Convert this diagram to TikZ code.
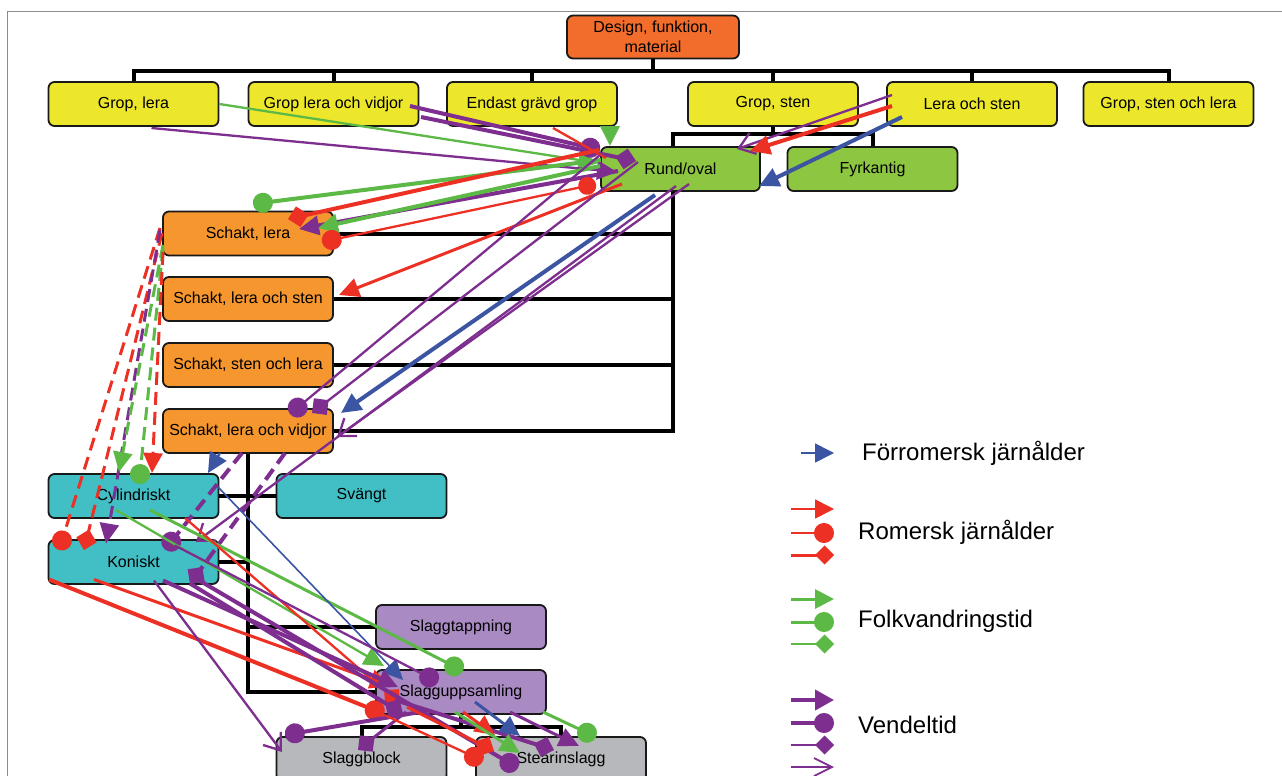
\documentclass[tikz,border=0pt]{standalone}
\usepackage{fontspec}
\setmainfont{Liberation Sans}
\usetikzlibrary{arrows.meta}
\definecolor{cR}{HTML}{ED3024}
\definecolor{cG}{HTML}{5CB946}
\definecolor{cP}{HTML}{7D2E8F}
\definecolor{cB}{HTML}{3B55A3}
\definecolor{fDes}{HTML}{F26C2B}
\definecolor{fYel}{HTML}{EDE72C}
\definecolor{fGrn}{HTML}{8DC641}
\definecolor{fOra}{HTML}{F5962E}
\definecolor{fTea}{HTML}{41BFC4}
\definecolor{fLav}{HTML}{A98AC3}
\definecolor{fGry}{HTML}{B7B8BB}
\begin{document}
\begin{tikzpicture}[x=1pt,y=-1pt,
  box/.style={draw=black!90, line width=1.8pt, rounded corners=6pt, minimum width=170pt,
    minimum height=44pt, inner sep=0pt, align=center, font=\fontsize{16}{19}\selectfont},
  tree/.style={line width=4pt, draw=black, line join=miter},
  tk/.style={line width=4pt},
  md/.style={line width=3pt},
  tn/.style={line width=2.3pt},
  arr/.style={-{Triangle[length=20pt,width=19pt]}},
  cir/.style={-{Circle[length=20pt]}},
  dia/.style={-{Diamond[length=21pt,width=21pt]}},
  opn/.style={-{Straight Barb[length=15pt,width=22pt]}},
  dpat/.style={dash pattern=on 13pt off 7pt},
  lg/.style={anchor=west, inner sep=0pt, font=\fontsize{24}{28}\selectfont}]
\useasboundingbox (0,0) rectangle (1282,776);
\fill[white] (0,0) rectangle (1282,776);
\draw[black!45, line width=0.8pt] (7,776) -- (7,11) -- (1282,11);

% ---------- nodes ----------
\path
  node[box, fill=fDes, minimum width=172pt, minimum height=43pt] (dfm) at (653,37) {Design, funktion,\\[1pt]material}
  node[box, fill=fYel] (gl)  at (133.5,104) {Grop, lera}
  node[box, fill=fYel] (glv) at (333.5,104) {Grop lera och vidjor}
  node[box, fill=fYel] (egg) at (532,104) {Endast grävd grop}
  node[box, fill=fYel] (gs)  at (773,104) {Grop, sten}
  node[box, fill=fYel] (ls)  at (972,104) {Lera och sten}
  node[box, fill=fYel] (gsl) at (1168.5,104) {Grop, sten och lera}
  node[box, fill=fGrn, minimum width=159pt] (ro) at (680.5,169) {Rund/oval}
  node[box, fill=fGrn] (fk)  at (872.5,169) {Fyrkantig}
  node[box, fill=fOra] (s1)  at (248,233.5) {Schakt, lera}
  node[box, fill=fOra] (s2)  at (248,299) {Schakt, lera och sten}
  node[box, fill=fOra] (s3)  at (248,365) {Schakt, sten och lera}
  node[box, fill=fOra] (s4)  at (248,431) {Schakt, lera och vidjor}
  node[box, fill=fTea] (cyl) at (133.5,496) {Cylindriskt}
  node[box, fill=fTea] (sv)  at (361.5,496) {Svängt}
  node[box, fill=fTea] (kon) at (133.5,562) {Koniskt}
  node[box, fill=fLav] (stp) at (461,627) {Slaggtappning}
  node[box, fill=fLav] (sup) at (461,692) {Slagguppsamling}
  node[box, fill=fGry] (sb)  at (361.5,759) {Slaggblock}
  node[box, fill=fGry] (st)  at (561,759) {Stearinslagg};

% ---------- tree lines ----------
\coordinate (b1) at (653,71);
\coordinate (b2) at (773,134);
\coordinate (b3) at (673,431);
\coordinate (b4) at (248,692);
\coordinate (b5) at (461,727);
\draw[tree] (dfm.south) -- (b1);
\foreach \n in {gl,glv,egg,gs,ls,gsl} \draw[tree] (\n.north) |- (b1);
\draw[tree] (gs.south) -- (b2);
\draw[tree] ([shift={(-7.5,0)}]ro.north) |- (b2);
\draw[tree] (fk.north) |- (b2);
\draw[tree] ([shift={(-7.5,0)}]ro.south) |- (s4.east);
\foreach \n in {s1,s2,s3} \draw[tree] (\n.east) -| (b3);
\draw[tree] (s4.south) |- (sup.west);
\draw[tree] (cyl.east) -- (sv.west);
\draw[tree] (kon.east) -| (b4);
\draw[tree] (stp.west) -| (b4);
\draw[tree] (sup.south) -- (b5);
\draw[tree] (sb.north) |- (b5);
\draw[tree] (st.north) |- (b5);

% ---------- coloured connectors: top ----------
\draw[cG,tn,arr] (gl.east) -- ([shift={(-82,-6)}]ro.center);
\draw[cP,tn,arr] ([shift={(18,24)}]gl.center) -- ([shift={(-63.5,3)}]ro.center);
\draw[cP,tk,cir] ([shift={(76.5,2)}]glv.center) -- ([shift={(-80.5,-19)}]ro.center);
\draw[cP,tk,dia] ([shift={(87.5,13)}]glv.center) -- ([shift={(-44.5,-8)}]ro.center);
\draw[cR,tn] ([shift={(21,24)}]egg.center) -- ([shift={(-74.5,-11)}]ro.center);
\draw[cG,tk,arr] ([shift={(78,22)}]egg.center) -- ([shift={(-70.5,-23)}]ro.center);
\draw[cG,tk,cir] ([shift={(-79.5,-9)}]ro.center) -- ([shift={(5,-29.5)}]s1.center);
\draw[cR,tk,dia] ([shift={(-81.5,-19)}]ro.center) -- ([shift={(40,-14.5)}]s1.center);
\draw[cP,tk,arr] ([shift={(-62.5,2)}]ro.center) -- ([shift={(51,-4.5)}]s1.center);
\draw[cG,tk,arr] ([shift={(-80.5,-3)}]ro.center) -- ([shift={(70,-5.5)}]s1.center);
\draw[cR,tn,{Circle[length=18pt]}-{Circle[length=20pt]}] ([shift={(-84.5,15)}]ro.center) -- ([shift={(74,8.5)}]s1.center);
\draw[cR,md,arr] ([shift={(-58.5,15)}]ro.center) -- ([shift={(91,-4)}]s2.center);
\draw[cP,tn,cir] ([shift={(-80.5,-14)}]ro.center) -- ([shift={(42,-17)}]s4.center);
\draw[cP,tn,dia] ([shift={(-42.5,-7)}]ro.center) -- ([shift={(64,-18)}]s4.center);
\draw[cB,tk,arr] ([shift={(-25.5,26)}]ro.center) -- ([shift={(93,-18)}]s4.center);
\draw[cP,tn,opn] ([shift={(8.5,15)}]ro.center) -- ([shift={(89,6)}]s4.center);
\draw[cP,tn,opn] ([shift={(-4.5,17)}]ro.center) -- ([shift={(62.5,-20)}]kon.center);
\draw[cP,tn,opn] ([shift={(-80,-9)}]ls.center) -- ([shift={(56.5,-20)}]ro.center);
\draw[cR,tk,arr] ([shift={(-80,2)}]ls.center) -- ([shift={(69.5,-18)}]ro.center);
\draw[cB,tk,arr] ([shift={(-70,13)}]ls.center) -- ([shift={(78.5,17)}]ro.center);

% ---------- dashed from Schakt, lera ----------
\draw[cR,md,dpat,cir] ([shift={(-88,-5.5)}]s1.center) -- ([shift={(-74.5,-12)}]kon.center);
\draw[cR,md,dpat,dia] ([shift={(-86,-0.5)}]s1.center) -- ([shift={(-49.5,-12)}]kon.center);
\draw[cP,md,dpat,arr] ([shift={(-88,-3.5)}]s1.center) -- ([shift={(-27.5,-18.5)}]kon.center);
\draw[cG,md,dpat,arr] ([shift={(-85,11.5)}]s1.center) -- ([shift={(-14.5,-24)}]cyl.center);
\draw[cG,md,dpat,cir] ([shift={(-85,14.5)}]s1.center) -- ([shift={(5.5,-12)}]cyl.center);
\draw[cR,md,dpat,arr] ([shift={(-85,18.5)}]s1.center) -- ([shift={(18.5,-23)}]cyl.center);

% ---------- from Schakt, lera och vidjor ----------
\draw[cB,tn,arr] ([shift={(-28,22)}]s4.center) -- ([shift={(74.5,-23)}]cyl.center);
\draw[cP,tk,dpat,cir] ([shift={(-6,22)}]s4.center) -- ([shift={(31.5,-12.5)}]kon.center);
\draw[cP,tk,dpat,dia] ([shift={(37,22)}]s4.center) -- ([shift={(56.5,22)}]kon.center);

% ---------- from Cylindriskt ----------
\draw[cG,tn,arr] ([shift={(-17.5,14)}]cyl.center) -- ([shift={(-77,-26)}]sup.center);
\draw[cG,md,cir] ([shift={(16.5,14)}]cyl.center) -- ([shift={(2,-21)}]sup.center);
\draw[cB,line width=1.6pt,arr] ([shift={(84.5,-9)}]cyl.center) -- ([shift={(-58,-12)}]sup.center);
\draw[cR,tn,dia] ([shift={(51.5,22)}]cyl.center) -- ([shift={(-61,12)}]sup.center);

% ---------- from Koniskt ----------
\draw[cR,tk,cir] ([shift={(-84.5,17.5)}]kon.center) -- ([shift={(-77,22)}]sup.center);
\draw[cR,md,arr] ([shift={(-39.5,17.5)}]kon.center) -- ([shift={(-71,-6)}]sup.center);
\draw[cP,tk,arr] ([shift={(29.5,18.5)}]kon.center) -- ([shift={(-63,-5)}]sup.center);
\draw[cP,tn,opn] ([shift={(20.5,18.5)}]kon.center) -- ([shift={(-79.5,-7)}]sb.center);
\draw[cP,tk,cir] ([shift={(62.5,16.5)}]kon.center) -- ([shift={(-43,9)}]st.center);
\draw[cP,tk,dia] ([shift={(56.5,21.5)}]kon.center) -- ([shift={(-58,22)}]sup.center);
\draw[cP,tn,cir] ([shift={(41.5,-16.5)}]kon.center) -- ([shift={(-23,-10)}]sup.center);

% ---------- from Slagguppsamling ----------
\draw[cP,tk,cir] ([shift={(-41,20)}]sup.center) -- ([shift={(-76.5,-24)}]sb.center);
\draw[cP,md,dia] ([shift={(-55,20)}]sup.center) -- ([shift={(-3.5,-9)}]sb.center);
\draw[cP,tk,dia] ([shift={(-66,8)}]sup.center) -- ([shift={(-7,-9)}]st.center);
\draw[cP,md,arr] ([shift={(49,20)}]sup.center) -- ([shift={(18,-13)}]st.center);
\draw[cR,tn,cir] ([shift={(-83,20)}]sup.center) -- ([shift={(-78,2)}]st.center);
\draw[cR,md,dia] ([shift={(-54,15)}]sup.center) -- ([shift={(-67,-8)}]st.center);
\draw[cR,md,arr] ([shift={(2,20)}]sup.center) -- ([shift={(-66,-24)}]st.center);
\draw[cG,md,arr] ([shift={(-6,20)}]sup.center) -- ([shift={(-41,-6)}]st.center);
\draw[cB,md,arr] ([shift={(14,10)}]sup.center) -- ([shift={(-41,-23)}]st.center);
\draw[cG,md,cir] ([shift={(82,20)}]sup.center) -- ([shift={(35,-22)}]st.center);

% ---------- legend ----------
\coordinate (l0a) at (801,453); \coordinate (l0b) at (834,453);
\coordinate (l1a) at (791,509); \coordinate (l1b) at (834,509);
\coordinate (l2a) at (791,533); \coordinate (l2b) at (834,533);
\coordinate (l3a) at (791,555); \coordinate (l3b) at (834,555);
\coordinate (l4a) at (791,599); \coordinate (l4b) at (834,599);
\coordinate (l5a) at (791,622); \coordinate (l5b) at (834,622);
\coordinate (l6a) at (791,644); \coordinate (l6b) at (834,644);
\coordinate (l7a) at (791,700); \coordinate (l7b) at (834,700);
\coordinate (l8a) at (791,723); \coordinate (l8b) at (834,723);
\coordinate (l9a) at (791,745); \coordinate (l9b) at (834,745);
\coordinate (lxa) at (791,767); \coordinate (lxb) at (834,767);
\draw[cB,line width=1.6pt,-{Triangle[length=19pt,width=19pt]}] (l0a) -- (l0b);
\draw[cR,line width=1.6pt,-{Triangle[length=19pt,width=19pt]}] (l1a) -- (l1b);
\draw[cR,line width=1.6pt,-{Circle[length=20pt]}] (l2a) -- (l2b);
\draw[cR,md,-{Diamond[length=19pt,width=19pt]}] (l3a) -- (l3b);
\draw[cG,md,-{Triangle[length=19pt,width=19pt]}] (l4a) -- (l4b);
\draw[cG,md,-{Circle[length=20pt]}] (l5a) -- (l5b);
\draw[cG,line width=1.6pt,-{Diamond[length=19pt,width=19pt]}] (l6a) -- (l6b);
\draw[cP,tk,-{Triangle[length=19pt,width=20pt]}] (l7a) -- (l7b);
\draw[cP,tk,-{Circle[length=20pt]}] (l8a) -- (l8b);
\draw[cP,line width=1.8pt,-{Diamond[length=19pt,width=19pt]}] (l9a) -- (l9b);
\draw[cP,line width=1.8pt,-{Straight Barb[length=18pt,width=18pt]}] (lxa) -- (lxb);
\node[lg] (t0) at (862,453) {Förromersk järnålder};
\node[lg] (t1) at (858,532) {Romersk järnålder};
\node[lg] (t2) at (858,621) {Folkvandringstid};
\node[lg] (t3) at (858,725) {Vendeltid};
\end{tikzpicture}
\end{document}
